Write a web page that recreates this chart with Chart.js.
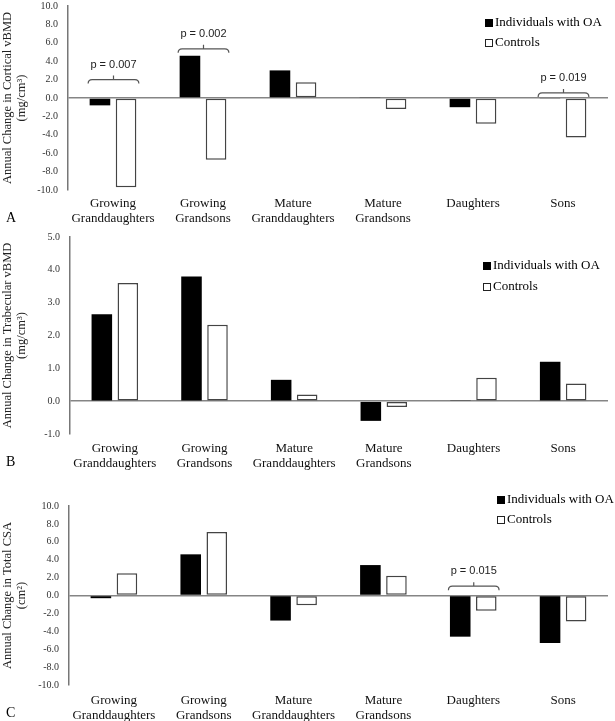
<!DOCTYPE html>
<html><head><meta charset="utf-8">
<script src="https://cdn.jsdelivr.net/npm/chart.js@4"></script>
<style>
body{margin:0;background:#fff;width:615px;height:721px;position:relative;overflow:hidden}
canvas{position:absolute;left:0}
</style></head><body>
<canvas id="cA" width="615" height="225" style="top:0px"></canvas>
<canvas id="cB" width="615" height="245" style="top:225px"></canvas>
<canvas id="cC" width="615" height="251" style="top:470px"></canvas>
<script>
const categories = [["Growing","Granddaughters"],["Growing","Grandsons"],["Mature","Granddaughters"],["Mature","Grandsons"],"Daughters","Sons"];
const seriesNames = ["Individuals with OA","Controls"];

const cortOA   = [-0.8, 4.6, 3.0, 0.1, -1.0, -0.1];
const cortCtrl = [-9.7, -6.7, 1.7, -1.2, -2.8, -4.3];
const trabOA   = [2.65, 3.8, 0.65, -0.6, 0.03, 1.2];
const trabCtrl = [3.6, 2.33, 0.2, -0.18, 0.71, 0.54];
const csaOA    = [-0.3, 4.6, -2.8, 3.4, -4.6, -5.3];
const csaCtrl  = [2.5, 7.1, -1.1, 2.2, -1.7, -2.9];

const ticksA = [-10,-8,-6,-4,-2,0,2,4,6,8,10];
const ticksB = [-1,0,1,2,3,4,5];
const ticksC = [-10,-8,-6,-4,-2,0,2,4,6,8,10];

const titleA = ["Annual Change in Cortical vBMD","(mg/cm³)"];
const titleB = ["Annual Change in Trabecular vBMD","(mg/cm³)"];
const titleC = ["Annual Change in Total CSA","(cm²)"];

const bracketCatsA = [0,1,5];
const bracketValsA = [2.0,5.35,0.55];
const bracketTextA = ["p = 0.007","p = 0.002","p = 0.019"];
const bracketCatsC = [4];
const bracketValsC = [1.04];
const bracketTextC = ["p = 0.015"];

const SERIF = "'Liberation Serif','Times New Roman',serif";
const SANS = "'Liberation Sans',Arial,sans-serif";

const extras = {
  id: 'extras',
  afterDatasetsDraw(chart, args, o) {
    const ctx = chart.ctx;
    ctx.save();
    const L = o.legend;
    ctx.font = "13px " + SERIF;
    ctx.textBaseline = 'middle';
    ctx.textAlign = 'left';
    ctx.fillStyle = '#000';
    ctx.fillRect(L.x, L.y1 - 4, 8, 8);
    ctx.fillText(seriesNames[0], L.x + 10, L.y1);
    ctx.strokeStyle = '#222';
    ctx.lineWidth = 1;
    ctx.strokeRect(L.x + 0.5, L.y2 - 3.5, 7, 7);
    ctx.fillText(seriesNames[1], L.x + 10, L.y2);
    ctx.font = "14px " + SERIF;
    ctx.fillText(o.letter.t, o.letter.x, o.letter.y);
    const ys = chart.scales.y;
    const m0 = chart.getDatasetMeta(0), m1 = chart.getDatasetMeta(1);
    (o.cats || []).forEach((c, i) => {
      const b0 = m0.data[c], b1 = m1.data[c];
      const xl = b0.x - b0.width / 2 - 1.5, xr = b1.x + b1.width / 2 + 2.5;
      const xm = (xl + xr) / 2;
      const y = ys.getPixelForValue(o.vals[i]);
      ctx.strokeStyle = '#555';
      ctx.lineWidth = 1.2;
      ctx.beginPath();
      ctx.moveTo(xl, y + 4);
      ctx.quadraticCurveTo(xl, y, xl + 4, y);
      ctx.lineTo(xr - 4, y);
      ctx.quadraticCurveTo(xr, y, xr, y + 4);
      ctx.moveTo(xm, y);
      ctx.lineTo(xm, y - 4);
      ctx.stroke();
      ctx.font = "11px " + SANS;
      ctx.fillStyle = '#222';
      ctx.textAlign = 'center';
      ctx.fillText(o.texts[i], xm, y - 15);
    });
    ctx.restore();
  }
};

function makeChart(id, oa, ctrl, tickArr, title, cfg) {
  return new Chart(document.getElementById(id), {
    type: 'bar',
    data: {
      labels: categories,
      datasets: [
        {label: seriesNames[0], data: oa, backgroundColor: '#000', borderColor: '#000', borderWidth: 0,
         categoryPercentage: 0.58, barPercentage: 0.79},
        {label: seriesNames[1], data: ctrl, backgroundColor: '#fff', borderColor: '#444', borderWidth: 1.5,
         borderSkipped: false, categoryPercentage: 0.58, barPercentage: 0.79}
      ]
    },
    options: {
      responsive: false,
      devicePixelRatio: 1,
      animation: false,
      layout: {padding: {top: cfg.top, right: 7, left: 0, bottom: 0}},
      plugins: {legend: {display: false}, tooltip: {enabled: false},
        extras: {legend: cfg.legend, letter: cfg.letter, cats: cfg.cats, vals: cfg.vals, texts: cfg.texts}},
      scales: {
        x: {
          grid: {display: false, drawTicks: false},
          border: {display: false},
          ticks: {font: {family: SERIF, size: 13, lineHeight: 1.15}, color: '#111', padding: cfg.xpad, maxRotation: 0, autoSkip: false},
          afterFit: s => { s.height = cfg.xh; s.paddingLeft = 0; s.paddingRight = 0; }
        },
        y: {
          min: tickArr[0], max: tickArr[tickArr.length - 1],
          afterBuildTicks: s => { s.ticks = tickArr.map(v => ({value: v})); },
          grid: {drawTicks: false, lineWidth: 1.5,
                 color: c => (c.tick && c.tick.value === 0) ? '#858585' : 'rgba(0,0,0,0)'},
          border: {display: true, color: '#777', width: 1.5},
          ticks: {font: {family: SERIF, size: 10}, color: '#333', padding: 10,
                  callback: v => Number(v).toFixed(1)},
          title: {display: true, text: title, font: {family: SERIF, size: 12.5, lineHeight: 1.12}, color: '#222',
                  padding: {top: 1, bottom: 0}},
          afterFit: s => { s.width = cfg.left; s.paddingTop = 0; s.paddingBottom = 0; }
        }
      }
    },
    plugins: [extras]
  });
}

makeChart('cA', cortOA, cortCtrl, ticksA, titleA, {
  top: 6, xh: 35, xpad: 6, left: 68,
  legend: {x: 485, y1: 23, y2: 43},
  letter: {t: 'A', x: 6, y: 218},
  cats: bracketCatsA, vals: bracketValsA, texts: bracketTextA
});
makeChart('cB', trabOA, trabCtrl, ticksB, titleB, {
  top: 12, xh: 36, xpad: 7, left: 70,
  legend: {x: 483, y1: 41, y2: 62},
  letter: {t: 'B', x: 6, y: 237}
});
makeChart('cC', csaOA, csaCtrl, ticksC, titleC, {
  top: 36, xh: 36, xpad: 8, left: 69,
  legend: {x: 497, y1: 30, y2: 50},
  letter: {t: 'C', x: 6, y: 243},
  cats: bracketCatsC, vals: bracketValsC, texts: bracketTextC
});
</script>
</body></html>
